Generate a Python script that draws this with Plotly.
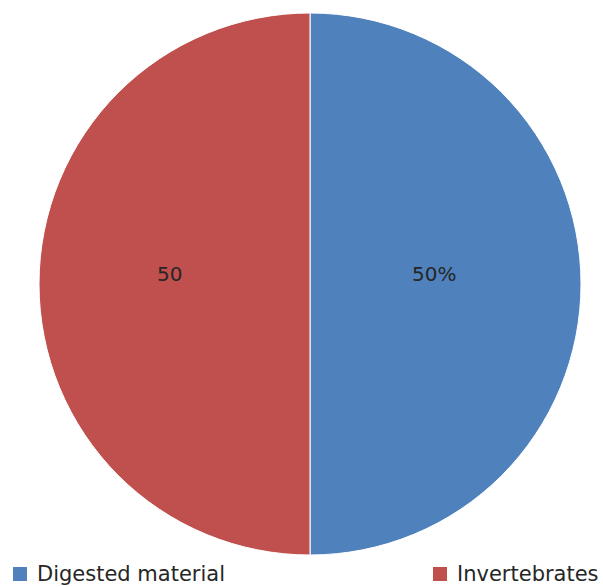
import math
import plotly.graph_objects as go

# Diet composition shares
categories = ["Digested material", "Invertebrates"]
values = [50, 50]
slice_text = ["50%", "50"]
colors = ["#4F81BD", "#C0504D"]

W, H = 603, 587
CX, CY, R = 310, 284, 271          # pie centre and radius in pixels
LABEL_RADIUS = [0.459, 0.518]      # radial placement of each slice label
LABEL_LIFT = 10                    # labels sit slightly above the centre line
FONT = "DejaVu Sans, sans-serif"
TEXT_COLOR = "#262626"


def px(x):
    return x / W


def py(y):
    return 1 - y / H


fig = go.Figure(
    go.Pie(
        labels=categories,
        values=values,
        textinfo="none",
        marker=dict(colors=colors, line=dict(color="white", width=1)),
        sort=False,
        direction="clockwise",
        rotation=0,
        showlegend=False,
        hoverinfo="label+value",
        domain=dict(x=[px(CX - R), px(CX + R)], y=[py(CY + R), py(CY - R)]),
    )
)

# Slice labels at each slice's mid-angle (clockwise from 12 o'clock)
annotations = []
total = sum(values)
start = 0.0
for i, (v, txt) in enumerate(zip(values, slice_text)):
    mid = (start + v / 2) / total * 2 * math.pi
    start += v
    lx = CX + LABEL_RADIUS[i] * R * math.sin(mid)
    ly = CY - LABEL_RADIUS[i] * R * math.cos(mid) - LABEL_LIFT
    annotations.append(dict(
        x=px(lx), y=py(ly), xref="paper", yref="paper",
        text=txt, showarrow=False, xanchor="center", yanchor="middle",
        font=dict(family=FONT, size=20, color=TEXT_COLOR),
    ))

# Legend along the bottom edge: swatch + label for each category
legend_x = [13, 433]
legend_y = 574
swatch = 14
shapes = []
for x0, name, col in zip(legend_x, categories, colors):
    shapes.append(dict(
        type="rect", xref="paper", yref="paper",
        x0=px(x0), x1=px(x0 + swatch),
        y0=py(legend_y + swatch / 2), y1=py(legend_y - swatch / 2),
        fillcolor=col, line=dict(width=0),
    ))
    annotations.append(dict(
        x=px(x0 + swatch + 8), y=py(legend_y), xref="paper", yref="paper",
        text=name, showarrow=False, xanchor="left", yanchor="middle",
        font=dict(family=FONT, size=21, color=TEXT_COLOR),
    ))

fig.update_layout(
    width=W,
    height=H,
    margin=dict(l=0, r=0, t=0, b=0),
    paper_bgcolor="white",
    plot_bgcolor="white",
    showlegend=False,
    shapes=shapes,
    annotations=annotations,
)

fig.write_html("out.html")
